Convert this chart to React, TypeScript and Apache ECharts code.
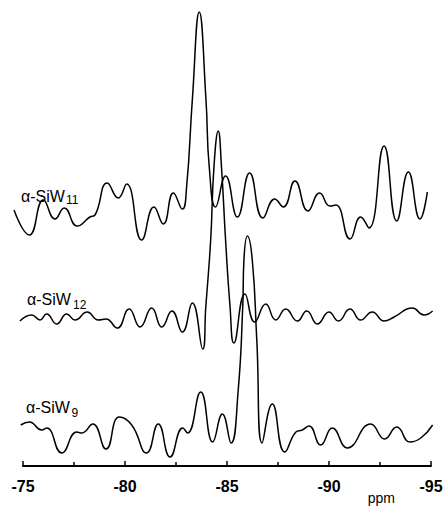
import React, { useEffect, useRef } from "react";
import * as echarts from "echarts";

// x positions (ppm) and intensities (arbitrary units, relative to each trace's baseline)
const ppmSiW11 = [-74.56, -75.31, -76.0, -76.57, -77.02, -77.66, -78.28, -78.53, -79.13, -79.67, -80.08, -80.82, -81.42, -81.88, -82.37, -82.81, -83.02, -83.3, -83.64, -83.97, -84.13, -84.44, -84.93, -85.51, -86.11, -86.76, -87.34, -87.76, -88.33, -88.97, -89.54, -90.05, -90.34, -91.03, -91.55, -91.96, -92.7, -93.32, -93.89, -94.46, -94.82];
const intSiW11 = [-2, -27, 8, -11, 0, -18, -9, -7, 25, 10, 24, -32, 1, -16, 15, -1, 21, 108, 196, 108, 41, 1, 32, -9, 35, -10, 9, 1, 27, -3, 15, 2, 3, -31, -9, -20, 62, -13, 36, -11, 16];

const ppmSiW12 = [-74.85, -75.43, -75.83, -76.16, -76.65, -77.14, -77.55, -78.15, -78.69, -79.07, -79.62, -80.2, -80.74, -81.31, -81.8, -82.3, -82.81, -83.3, -83.81, -83.96, -84.2, -84.36, -84.57, -84.73, -84.93, -85.15, -85.34, -85.88, -86.36, -86.9, -87.39, -87.88, -88.45, -88.91, -89.43, -90.0, -90.46, -91.03, -91.55, -92.12, -92.7, -93.19, -94.08, -94.66, -95.08];
const intSiW12 = [-3, 3, -2, 4, -6, 4, -2, 6, -2, -1, -10, 9, -9, 10, -9, 7, -14, 15, -31, 11, 78, 151, 187, 151, 78, 11, -25, 24, -4, 14, -2, 9, -3, 7, -6, 6, -3, 9, -2, 6, -3, 1, 10, 3, 7];

const ppmSiW9 = [-74.89, -75.31, -75.92, -76.16, -76.9, -77.63, -77.88, -78.42, -79.07, -79.72, -80.33, -81.06, -81.63, -82.21, -82.83, -83.07, -83.71, -84.3, -84.77, -85.2, -85.55, -85.77, -85.83, -86.0, -86.24, -86.46, -86.72, -87.22, -87.83, -88.38, -88.69, -89.02, -89.59, -90.16, -90.9, -92.04, -92.73, -93.32, -93.97, -94.5, -95.08];
const intSiW9 = [7, 10, 2, 4, -21, 0, -1, 8, -17, 15, 7, -21, 8, -25, 4, -1, 40, -10, 18, -11, 42, 125, 172, 196, 172, 92, -11, 28, -20, 0, 2, 6, -13, 4, -16, 8, -7, 5, -10, -6, 7];

// vertical stacking offsets of the three spectra
const traceOffsets = [258, 148, 34];
const traceNames = ["α-SiW11", "α-SiW12", "α-SiW9"];

// visible axis range and the slightly wider plotting range of the traces
const xTicks = { min: -95, max: -75, step: 5 };
const dataRange = { min: -95.6, max: -74.4 };

const FONT = "'Liberation Sans', Arial, Helvetica, sans-serif";

// pixel scale: axis -75..-95 spans x=23..431
const AX_LEFT = 23;
const AX_RIGHT = 17;
const PX_PER_PPM = (448 - AX_LEFT - AX_RIGHT) / (xTicks.max - xTicks.min);

function buildSeries(ppm: number[], vals: number[], offset: number, name: string) {
  return {
    type: "line",
    name,
    xAxisIndex: 1,
    yAxisIndex: 1,
    data: ppm.map((x, i) => [x, vals[i] + offset]),
    showSymbol: false,
    symbol: "none",
    smooth: 0.5,
    clip: false,
    silent: true,
    lineStyle: { color: "#000", width: 1.5 },
  };
}

function label(mainX: number, mainY: number, subX: number, subY: number, main: string, sub: string) {
  return [
    {
      type: "text",
      x: mainX,
      y: mainY,
      style: { text: main, fill: "#000", font: `16px ${FONT}`, textAlign: "left", textVerticalAlign: "middle" },
    },
    {
      type: "text",
      x: subX,
      y: subY,
      style: { text: sub, fill: "#000", font: `12px ${FONT}`, textAlign: "left", textVerticalAlign: "middle" },
    },
  ];
}

export default function App() {
  const ref = useRef<HTMLDivElement>(null);
  useEffect(() => {
    if (!ref.current) return;
    const chart = echarts.init(ref.current, undefined, { renderer: "svg" });
    const extraLeft = (dataRange.max - xTicks.max) * PX_PER_PPM; // ppm beyond -75, in px
    const extraRight = (xTicks.min - dataRange.min) * PX_PER_PPM; // ppm beyond -95, in px
    chart.setOption({
      animation: false,
      backgroundColor: "#fff",
      grid: [
        { left: AX_LEFT, right: AX_RIGHT, top: 10, bottom: 40 },
        { left: AX_LEFT - extraLeft, right: AX_RIGHT - extraRight, top: 10, bottom: 40 },
      ],
      xAxis: [
        {
          type: "value",
          gridIndex: 0,
          min: xTicks.min,
          max: xTicks.max,
          interval: xTicks.step,
          inverse: true,
          axisLine: { show: true, onZero: false, lineStyle: { color: "#000", width: 2 } },
          axisTick: { show: true, inside: true, length: 5, lineStyle: { color: "#000", width: 1.5 } },
          minorTick: { show: true, splitNumber: 2, length: 4, lineStyle: { color: "#000", width: 1.5 } },
          splitLine: { show: false },
          minorSplitLine: { show: false },
          axisLabel: { color: "#000", fontSize: 16, fontWeight: "bold", fontFamily: FONT, margin: 12 },
        },
        {
          type: "value",
          gridIndex: 1,
          min: dataRange.min,
          max: dataRange.max,
          inverse: true,
          show: false,
          splitLine: { show: false },
        },
      ],
      yAxis: [
        { type: "value", gridIndex: 0, min: 0, max: 456, show: false, splitLine: { show: false } },
        { type: "value", gridIndex: 1, min: 0, max: 456, show: false, splitLine: { show: false } },
      ],
      series: [
        buildSeries(ppmSiW11, intSiW11, traceOffsets[0], traceNames[0]),
        buildSeries(ppmSiW12, intSiW12, traceOffsets[1], traceNames[1]),
        buildSeries(ppmSiW9, intSiW9, traceOffsets[2], traceNames[2]),
      ],
      graphic: [
        ...label(21, 196.5, 66, 199.5, "α-SiW", "11"),
        ...label(27, 299, 73, 305, "α-SiW", "12"),
        ...label(26, 407.5, 71.5, 413, "α-SiW", "9"),
        {
          type: "text",
          x: 381.3,
          y: 497.5,
          style: { text: "ppm", fill: "#000", font: `14px ${FONT}`, textAlign: "center", textVerticalAlign: "middle" },
        },
      ],
    });
    return () => chart.dispose();
  }, []);
  return <div ref={ref} style={{ position: "fixed", left: 0, top: 0, width: 448, height: 506 }} />;
}
